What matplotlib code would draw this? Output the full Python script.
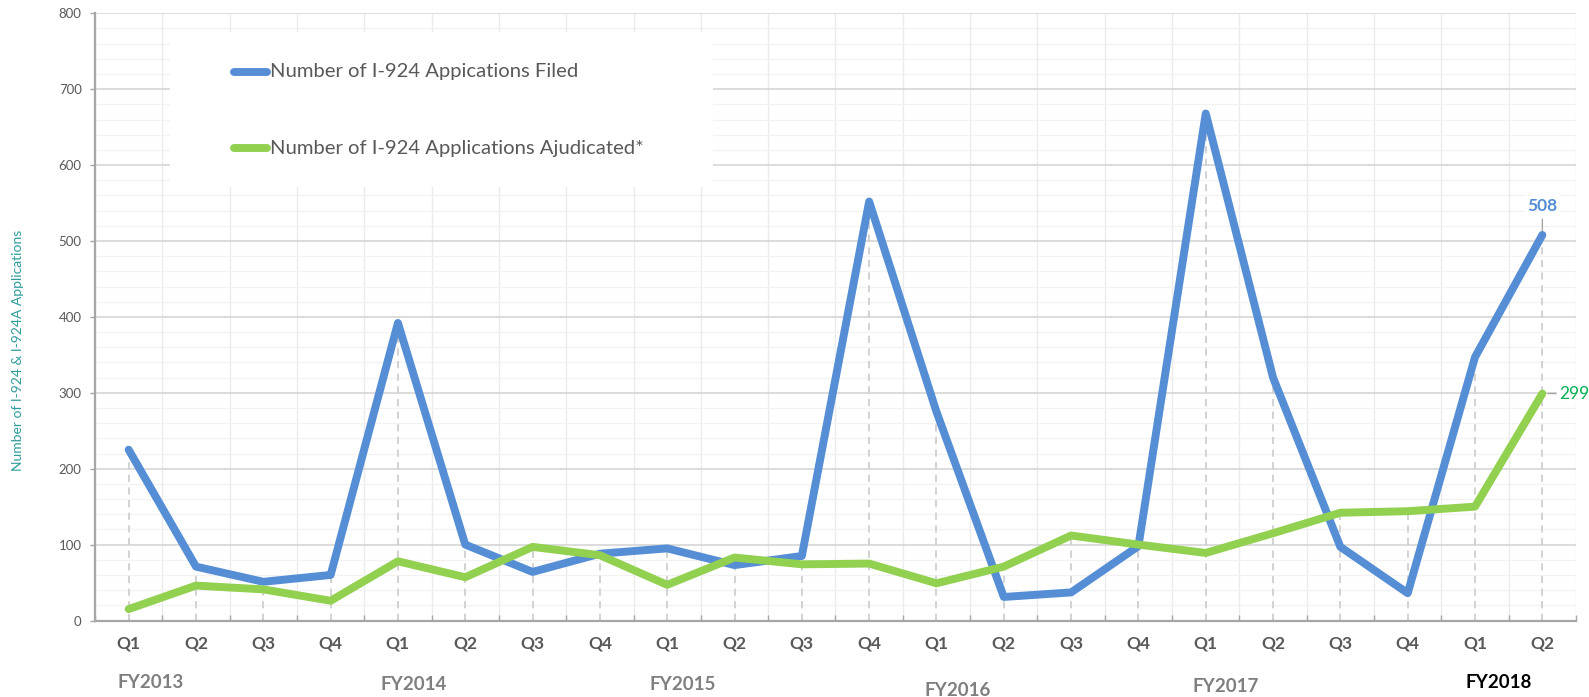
import matplotlib
matplotlib.use("Agg")
import matplotlib.pyplot as plt
from matplotlib.ticker import MultipleLocator, FixedLocator, NullFormatter
from matplotlib.patches import Rectangle
from matplotlib.lines import Line2D
import matplotlib.transforms as mtransforms

plt.rcParams['font.family'] = ['Lato', 'DejaVu Sans']

# ---------------- data ----------------
quarters = ['Q1', 'Q2', 'Q3', 'Q4'] * 5 + ['Q1', 'Q2']
fiscal_years = ['FY2013', 'FY2014', 'FY2015', 'FY2016', 'FY2017', 'FY2018']
filed = [225, 71, 51, 60, 392, 100, 64, 88, 95, 73, 85, 552,
         275, 31, 37, 98, 668, 320, 97, 36, 347, 508]
adjudicated = [15, 46, 41, 26, 78, 57, 97, 86, 47, 83, 74, 75,
               49, 71, 112, 100, 89, 115, 142, 144, 150, 299]
series_names = ['Number of I-924 Appications Filed',
                'Number of I-924 Applications Ajudicated*']
y_label = 'Number of I-924 & I-924A Applications'

# ---------------- layout ----------------
W, H = 1589, 697
def fx(px):
    return px / W
def fy(py):
    return 1 - py / H

BLUE = '#558ed5'
GREEN = '#92d050'
GRAY_TXT = '#595959'
LW = 5.7

fig = plt.figure(figsize=(W / 100, H / 100), dpi=100)
ax = fig.add_axes([fx(95), fy(620.5), (1576 - 95) / W, (620.5 - 13.3) / H])
ax.set_axisbelow(True)

n = len(filed)
xs = list(range(n))

ax.set_xlim(-0.5, n - 0.5)
ax.set_ylim(0, 800)

# y axis ticks and grids
ax.yaxis.set_major_locator(MultipleLocator(100))
ax.yaxis.set_minor_locator(MultipleLocator(20))
ax.grid(axis='y', which='major', color='#d9d9d9', lw=1.3)
ax.grid(axis='y', which='minor', color='#f2f2f2', lw=0.9)
ax.tick_params(axis='y', which='major', direction='out', length=3.6, width=1,
               color='#a6a6a6', pad=6, labelsize=9.5, labelcolor=GRAY_TXT)
ax.tick_params(axis='y', which='minor', length=0)

# x axis: boundaries as major ticks (grid), categories as minor tick labels
ax.xaxis.set_major_locator(FixedLocator([i - 0.5 for i in range(n + 1)]))
ax.xaxis.set_major_formatter(NullFormatter())
ax.xaxis.set_minor_locator(FixedLocator(xs))
ax.set_xticklabels(quarters, minor=True)
ax.grid(axis='x', which='major', color='#ebebeb', lw=1.0)
ax.tick_params(axis='x', which='major', direction='in', length=4.3, width=1,
               color='#a6a6a6')
ax.tick_params(axis='x', which='minor', length=0, pad=10.5, labelsize=12.5,
               labelcolor=GRAY_TXT)
for lab in ax.get_xticklabels(minor=True):
    lab.set_fontweight('bold')

for s in ['top', 'right']:
    ax.spines[s].set_visible(False)
for s in ['left', 'bottom']:
    ax.spines[s].set_color('#a6a6a6')
    ax.spines[s].set_linewidth(1.6)

# white legend area hiding gridlines
ax.add_patch(Rectangle((fx(170), fy(186.7)), fx(713) - fx(170), fy(31.7) - fy(186.7),
                       transform=fig.transFigure, facecolor='white',
                       edgecolor='none', zorder=1))

# drop lines
tops = [max(a, b) for a, b in zip(filed, adjudicated)]
ax.vlines(xs, 0, tops, colors='#cfcfcf', linestyles=(0, (4, 3)), lw=1.3, zorder=2)

# series lines
ax.plot(xs, filed, color=BLUE, lw=LW, solid_capstyle='round',
        solid_joinstyle='round', zorder=3)
ax.plot(xs, adjudicated, color=GREEN, lw=LW, solid_capstyle='round',
        solid_joinstyle='round', zorder=4)

# data labels for the last point
ax.annotate(str(filed[-1]), xy=(xs[-1], filed[-1]), xytext=(0, 21),
            textcoords='offset points', ha='center', va='center',
            color=BLUE, fontsize=12.5, fontweight='bold', zorder=6,
            bbox=dict(boxstyle='square,pad=0.15', fc='white', ec='none'),
            arrowprops=dict(arrowstyle='-', color='#a6a6a6', lw=1,
                            shrinkA=2, shrinkB=3))
ax.annotate(str(adjudicated[-1]), xy=(xs[-1], adjudicated[-1]), xytext=(12, 0),
            textcoords='offset points', ha='left', va='center',
            color='#00b050', fontsize=12.5, zorder=6, annotation_clip=False,
            bbox=dict(boxstyle='square,pad=0.1', fc='white', ec='none'),
            arrowprops=dict(arrowstyle='-', color='#a6a6a6', lw=1,
                            shrinkA=1, shrinkB=4))

# legend entries
leg_rows_py = [71.7, 148.3]
for name, col, py in zip(series_names, [BLUE, GREEN], leg_rows_py):
    ln = Line2D([fx(234), fx(267)], [fy(py), fy(py)], transform=fig.transFigure,
                color=col, lw=LW, solid_capstyle='round', zorder=5)
    ax.add_line(ln)
    ln.set_clip_on(False)
    ax.text(fx(270), fy(py), name, transform=fig.transFigure, ha='left',
            va='center', fontsize=14.6, color=GRAY_TXT, zorder=5)

# y label
fig.text(fx(18), fy(350), y_label, rotation=90, ha='center', va='center',
         fontsize=10, color='#2f9b9b')

# fiscal year labels
year_x = [0.32, 4.24, 8.23, 12.32, 16.3, 20.35]
year_py = [683, 685, 684, 690, 687, 683]
trans = mtransforms.blended_transform_factory(ax.transData, fig.transFigure)
for i, (lab, xv, py) in enumerate(zip(fiscal_years, year_x, year_py)):
    last = i == len(fiscal_years) - 1
    ax.text(xv, fy(py), lab, transform=trans, ha='center', va='center',
            fontsize=13.5, fontweight='bold',
            color='black' if last else '#7f7f7f', clip_on=False)

fig.savefig('out.png', dpi=100)
